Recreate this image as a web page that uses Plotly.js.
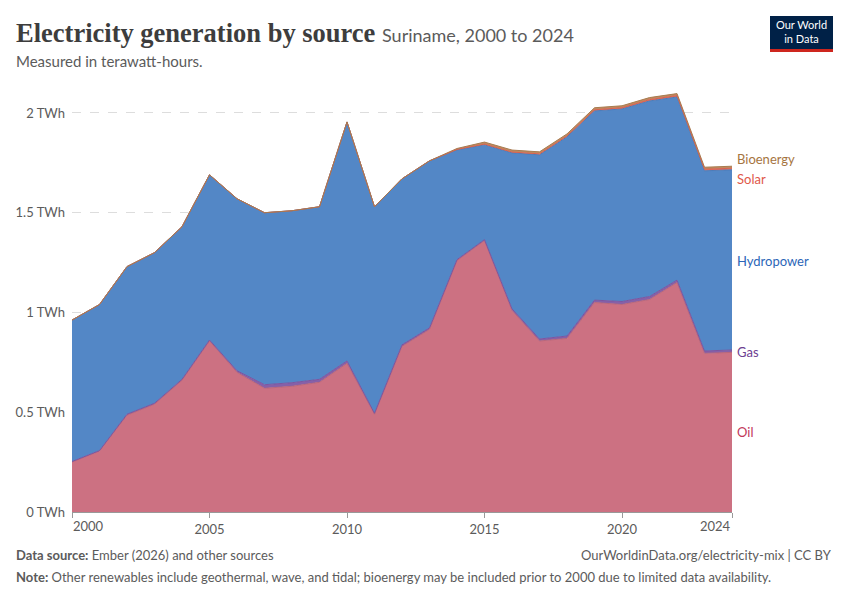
<!DOCTYPE html>
<html>
<head>
<meta charset="utf-8">
<script src="https://cdn.plot.ly/plotly-3.0.1.min.js"></script>
<style>html,body{margin:0;padding:0;background:#fff;}#chart{width:850px;height:600px;}</style>
</head>
<body>
<div id="chart"></div>
<script>
const years = [2000,2001,2002,2003,2004,2005,2006,2007,2008,2009,2010,2011,2012,2013,2014,2015,2016,2017,2018,2019,2020,2021,2022,2023,2024];
const oil = [0.25,0.305,0.485,0.54,0.66,0.857,0.70,0.62,0.63,0.65,0.745,0.49,0.83,0.915,1.26,1.36,1.01,0.857,0.87,1.05,1.04,1.065,1.15,0.795,0.80];
const gas = [0.003,0.003,0.005,0.005,0.005,0.005,0.008,0.018,0.018,0.015,0.012,0.005,0.008,0.008,0.005,0.005,0.008,0.01,0.012,0.012,0.015,0.015,0.012,0.012,0.012];
const hydropower = [0.709,0.732,0.74,0.755,0.765,0.828,0.862,0.862,0.862,0.865,1.198,1.035,0.832,0.837,0.55,0.475,0.782,0.923,0.998,0.948,0.965,0.98,0.918,0.903,0.903];
const solar = [0,0,0,0,0,0,0,0,0,0,0,0,0,0,0.002,0.004,0.004,0.005,0.005,0.006,0.006,0.007,0.007,0.008,0.008];
const bioenergy = [0,0,0,0,0,0,0,0,0,0,0,0,0,0,0.005,0.01,0.01,0.01,0.01,0.01,0.01,0.01,0.01,0.01,0.01];
const yTicks = [0,0.5,1,1.5,2];
const yTickLabels = ["0 TWh","0.5 TWh","1 TWh","1.5 TWh","2 TWh"];
const xTicks = [2000,2005,2010,2015,2020,2024];
const seriesNames = ["Oil","Gas","Hydropower","Solar","Bioenergy"];
const labelY = [0.40,0.80,1.26,1.67,1.77];

const fills = ["rgba(204,113,130,1)","rgba(134,96,168,1)","rgba(83,135,198,1)","rgba(226,110,95,1)","rgba(190,140,95,1)"];
const lines = ["#b9677a","#7b55a0","#4b7cba","#d8614f","#a87a50"];
const labelColors = ["#c2385a","#6d3e91","#2c66b8","#e0584a","#a6753f"];
const data = [oil,gas,hydropower,solar,bioenergy];

const traces = data.map((vals,i)=>({
  x: years, y: vals, name: seriesNames[i], type:'scatter', mode:'lines',
  stackgroup:'one', fillcolor: fills[i],
  line:{color: lines[i], width: 1},
  hoverinfo:'skip'
}));

// layout geometry helpers (plot area: x 72..732, y 93..512)
const L=72, R=732, T=93, B=512;
const px = x => (x-L)/(R-L);
const py = y => (B-y)/(B-T);

const annotations = seriesNames.map((n,i)=>({
  text:n, x:1, xref:'paper', y:labelY[i], yref:'y', xanchor:'left', xshift:3,
  showarrow:false, font:{family:'Lato', size:13, color:labelColors[i]}
}));

// edge x tick labels aligned inward
const first = xTicks[0], last = xTicks[xTicks.length-1];
annotations.push(
  {text:String(first), x:first, xref:'x', y:py(526), yref:'paper', xanchor:'left', yanchor:'middle', xshift:-1, showarrow:false,
   font:{family:'Lato', size:13, color:'#5b5b5b'}},
  {text:String(last), x:last, xref:'x', y:py(526), yref:'paper', xanchor:'right', yanchor:'middle', xshift:1, showarrow:false,
   font:{family:'Lato', size:13, color:'#5b5b5b'}}
);

annotations.push(
  {text:'<b>Electricity generation by source</b> <span style="font-family:Lato;font-size:18px;color:#5b5b5b;font-weight:normal">Suriname, 2000 to 2024</span>',
   xref:'paper', yref:'paper', x:px(14), y:py(33), xanchor:'left', yanchor:'middle', showarrow:false,
   font:{family:'Liberation Serif', size:26.5, color:'#3d3d3d'}},
  {text:'Measured in terawatt-hours.', xref:'paper', yref:'paper', x:px(14), y:py(61), xanchor:'left', yanchor:'middle', showarrow:false,
   font:{family:'Lato', size:15, color:'#5b5b5b'}},
  {text:'<b>Data source:</b> Ember (2026) and other sources', xref:'paper', yref:'paper', x:px(14), y:py(555), xanchor:'left', yanchor:'middle', showarrow:false,
   font:{family:'Lato', size:13, color:'#5b5b5b'}},
  {text:'OurWorldinData.org/electricity-mix | CC BY', xref:'paper', yref:'paper', x:px(834), y:py(555), xanchor:'right', yanchor:'middle', showarrow:false,
   font:{family:'Lato', size:13, color:'#5b5b5b'}},
  {text:'<b>Note:</b> Other renewables include geothermal, wave, and tidal; bioenergy may be included prior to 2000 due to limited data availability.', xref:'paper', yref:'paper', x:px(14), y:py(577), xanchor:'left', yanchor:'middle', showarrow:false,
   font:{family:'Lato', size:13, color:'#5b5b5b'}},
  {text:'Our World<br>in Data', xref:'paper', yref:'paper', x:px(801.5), y:py(32), xanchor:'center', yanchor:'middle', showarrow:false,
   font:{family:'Lato', size:11, color:'#ffffff'}}
);

const shapes = [
  {type:'rect', xref:'paper', yref:'paper', x0:px(770), x1:px(833), y0:py(49), y1:py(16), fillcolor:'#002147', line:{width:0}},
  {type:'rect', xref:'paper', yref:'paper', x0:px(770), x1:px(833), y0:py(52), y1:py(49), fillcolor:'#ce261e', line:{width:0}}
];

const layout = {
  width:850, height:600,
  margin:{l:L, r:850-R, t:T, b:600-B, pad:0},
  paper_bgcolor:'#fff', plot_bgcolor:'#fff',
  showlegend:false,
  xaxis:{range:[2000,2024], tickvals:xTicks, ticktext:xTicks.map((v,i)=> (i===0||i===xTicks.length-1) ? ' ' : String(v)), showgrid:false, zeroline:false,
    showline:true, linecolor:'#999', linewidth:1, ticks:'outside', ticklen:5, tickcolor:'#999',
    tickfont:{family:'Lato', size:13, color:'#5b5b5b'}, fixedrange:true},
  yaxis:{range:[0,2.1], tickvals:yTicks, ticktext:yTickLabels, showgrid:true, gridcolor:'#dddddd', griddash:'dash', gridwidth:1,
    zeroline:false, showline:false, ticks:'', ticklabelstandoff:6,
    tickfont:{family:'Lato', size:13, color:'#5b5b5b'}, fixedrange:true},
  annotations: annotations,
  shapes: shapes,
  hovermode:false
};

Plotly.newPlot('chart', traces, layout, {displayModeBar:false, staticPlot:true});
</script>
</body>
</html>
